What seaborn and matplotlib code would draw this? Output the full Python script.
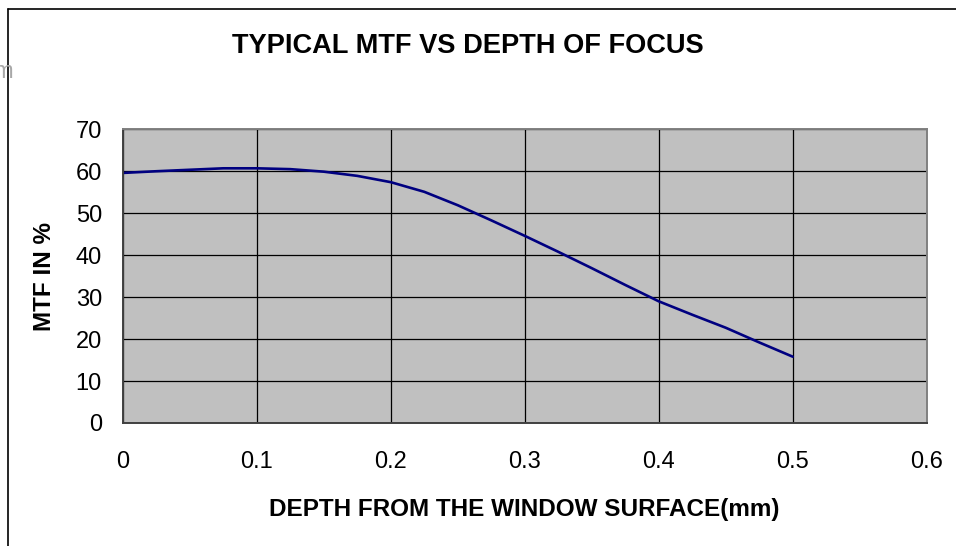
import numpy as np
import pandas as pd
import matplotlib
matplotlib.use("Agg")
import matplotlib.pyplot as plt
import seaborn as sns
from matplotlib.lines import Line2D

# valeurs
depth = [0, 0.025, 0.05, 0.075, 0.1, 0.125, 0.15, 0.175, 0.2, 0.225, 0.25,
         0.275, 0.3, 0.325, 0.35, 0.375, 0.4, 0.425, 0.45, 0.475, 0.5]
mtf = [59.6, 60.0, 60.35, 60.7, 60.7, 60.5, 59.9, 58.9, 57.4, 55.1, 51.9,
       48.3, 44.6, 40.8, 36.9, 32.9, 29.0, 25.8, 22.7, 19.2, 15.8]
x_ticks = [0, 0.1, 0.2, 0.3, 0.4, 0.5, 0.6]
x_labels = ["0", "0.1", "0.2", "0.3", "0.4", "0.5", "0.6"]
y_ticks = [0, 10, 20, 30, 40, 50, 60, 70]

df = pd.DataFrame({"depth": depth, "mtf": mtf})

sns.set_style("whitegrid", {"axes.facecolor": "#c0c0c0", "grid.color": "black",
                            "text.color": "black", "axes.labelcolor": "black",
                            "xtick.color": "black", "ytick.color": "black"})
plt.rcParams['font.family'] = ['Liberation Sans', 'DejaVu Sans']

fig = plt.figure(figsize=(9.56, 5.46), dpi=100)
ax = fig.add_axes([0.1284, 0.2253, 0.841, 0.5379])

sns.lineplot(data=df, x="depth", y="mtf", color="#000080", linewidth=1.9, ax=ax)

ax.set_xlim(0, 0.6)
ax.set_ylim(0, 70)
ax.set_xticks(x_ticks)
ax.set_xticklabels(x_labels)
ax.set_yticks(y_ticks)
ax.grid(True, color="black", linewidth=0.9)
ax.tick_params(axis="both", direction="out", length=6, width=0.9, color="#303030",
               labelsize=17, labelcolor="black")
ax.tick_params(axis="x", pad=14)
ax.tick_params(axis="y", pad=9)
for side in ["left", "bottom"]:
    ax.spines[side].set_color("#404040")
    ax.spines[side].set_linewidth(1.4)
for side in ["top", "right"]:
    ax.spines[side].set_visible(True)
    ax.spines[side].set_color("#808080")
    ax.spines[side].set_linewidth(1.4)

ax.set_xlabel("DEPTH FROM THE WINDOW SURFACE(mm)", fontsize=17.5, fontweight="bold",
              labelpad=18, color="black")
ax.set_ylabel("MTF IN %", fontsize=17.5, fontweight="bold", labelpad=14, color="black")

fig.text(468 / 956, 1 - 46 / 546, "TYPICAL MTF VS DEPTH OF FOCUS", fontsize=19.6,
         fontweight="bold", ha="center", va="center", color="black")
fig.text(13 / 956, 1 - 72 / 546, "m", fontsize=17, color="#a8a8a8", ha="right", va="center")

# cadre de la zone du graphique
fig.add_artist(Line2D([7.5 / 956, 1], [1 - 9.3 / 546, 1 - 9.3 / 546], color="black", linewidth=1.2))
fig.add_artist(Line2D([7.5 / 956, 7.5 / 956], [1 - 9.3 / 546, 0], color="black", linewidth=1.2))

fig.savefig("out.png", dpi=100)
